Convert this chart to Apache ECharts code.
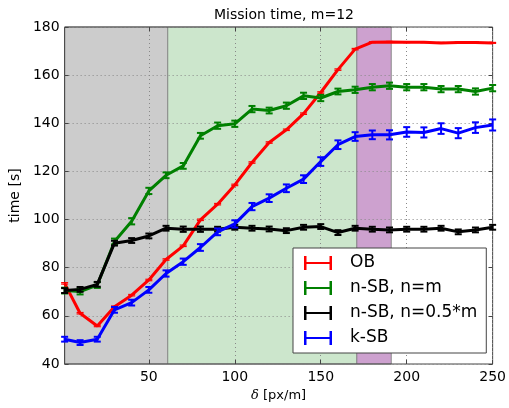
<!DOCTYPE html>
<html>
<head>
<meta charset="utf-8">
<title>Mission time</title>
<script src="https://cdn.jsdelivr.net/npm/echarts@6/dist/echarts.min.js"></script>
<style>
  html, body { margin: 0; padding: 0; background: #fff; }
  #main { width: 509px; height: 408px; }
</style>
</head>
<body>
<div id="main"></div>
<script type="text/javascript">
  // x positions (delta, px/m)
  var deltas = [1, 10, 20, 30, 40, 50, 60, 70, 80, 90, 100, 110, 120, 130, 140, 150, 160, 170, 180, 190, 200, 210, 220, 230, 240, 250];
  var xTicks = [50, 100, 150, 200, 250];

  // mean mission times
  var obTime = [73.5, 61.1, 55.8, 63.8, 68.6, 74.9, 83.4, 89.1, 99.9, 106.4, 114.4, 123.7, 132.0, 137.3, 144.0, 152.8, 162.3, 170.8, 173.7, 173.8, 173.7, 173.7, 173.4, 173.6, 173.6, 173.4];
  var nsbTime = [70.5, 70.1, 72.8, 90.9, 99.3, 111.9, 118.4, 122.3, 134.8, 139.0, 139.8, 145.9, 145.3, 147.3, 151.4, 150.5, 153.2, 153.9, 155.0, 155.6, 155.0, 155.0, 154.2, 154.2, 153.2, 154.6];
  var nsbHalfTime = [70.5, 71.0, 73.1, 90.2, 91.3, 93.2, 96.4, 96.0, 96.0, 96.0, 96.8, 96.4, 96.1, 95.4, 96.8, 97.1, 94.6, 96.4, 96.0, 95.7, 96.0, 96.0, 96.4, 94.9, 95.7, 96.8];
  var ksbTime = [50.3, 48.9, 50.3, 62.5, 65.5, 70.8, 77.6, 82.5, 88.4, 94.9, 98.2, 105.4, 108.9, 113.0, 116.8, 124.1, 131.1, 134.5, 135.2, 135.2, 136.4, 136.2, 137.8, 135.9, 138.2, 139.3];

  // error bar half-widths
  var obErr = [0.3, 0.3, 0.3, 0.3, 0.3, 0.3, 0.3, 0.3, 0.3, 0.3, 0.3, 0.3, 0.3, 0.3, 0.3, 0.3, 0.3, 0.3, 0.2, 0.2, 0.2, 0.2, 0.2, 0.2, 0.2, 0.2];
  var nsbErr = [1.2, 1.2, 1.2, 1.2, 1.3, 1.3, 1.2, 1.2, 1.2, 1.3, 1.3, 1.3, 1.2, 1.3, 1.3, 1.3, 1.2, 1.3, 1.3, 1.3, 1.3, 1.3, 1.3, 1.3, 1.3, 1.3];
  var nsbHalfErr = [1.0, 1.0, 1.0, 1.0, 1.0, 1.0, 1.0, 1.1, 1.1, 1.0, 1.0, 1.0, 1.0, 1.0, 1.0, 1.0, 1.0, 1.0, 1.0, 1.0, 1.0, 1.0, 1.0, 1.0, 1.0, 1.0];
  var ksbErr = [1.0, 1.0, 1.0, 1.2, 1.2, 1.2, 1.3, 1.3, 1.4, 1.4, 1.5, 1.5, 1.6, 1.6, 1.6, 1.8, 1.8, 1.8, 1.8, 1.9, 2.0, 2.1, 2.2, 2.1, 2.2, 2.3];

  // shaded delta ranges
  var bandStart = [1, 61, 171];
  var bandEnd = [61, 171, 191];
  var bandColor = ['#cccccc', '#cce6cc', '#cda1cf'];

  var names = ['OB', 'n-SB, n=m', 'n-SB, n=0.5*m', 'k-SB'];
  var colors = ['#ff0000', '#008000', '#000000', '#0000ff'];
  var means = [obTime, nsbTime, nsbHalfTime, ksbTime];
  var errs = [obErr, nsbErr, nsbHalfErr, ksbErr];

  var chart = echarts.init(document.getElementById('main'));

  var font = 'DejaVu Sans';
  var barIcon = 'path://M0,0H2.5V6H25.5V0H28V14H25.5V8H2.5V14H0Z';

  function lineData(arr) {
    var res = [];
    for (var i = 0; i < deltas.length; i++) res.push([deltas[i], arr[i]]);
    return res;
  }
  function errData(arr, err) {
    var res = [];
    for (var i = 0; i < deltas.length; i++) res.push([deltas[i], arr[i] - err[i], arr[i] + err[i]]);
    return res;
  }
  function bandData() {
    var res = [];
    for (var i = 0; i < bandStart.length; i++) res.push([bandStart[i], bandEnd[i], i]);
    return res;
  }

  function errRender(color, lw) {
    return function (params, api) {
      var x = api.value(0);
      var p1 = api.coord([x, api.value(1)]);
      var p2 = api.coord([x, api.value(2)]);
      var w = 3.5;
      var st = { stroke: color, lineWidth: lw };
      return {
        type: 'group',
        children: [
          { type: 'line', shape: { x1: p1[0], y1: p1[1], x2: p2[0], y2: p2[1] }, style: st },
          { type: 'line', shape: { x1: p1[0] - w, y1: p1[1], x2: p1[0] + w, y2: p1[1] }, style: st },
          { type: 'line', shape: { x1: p2[0] - w, y1: p2[1], x2: p2[0] + w, y2: p2[1] }, style: st }
        ]
      };
    };
  }

  var series = [{
    name: 'bands',
    type: 'custom',
    z: 1,
    silent: true,
    data: bandData(),
    renderItem: function (params, api) {
      var a = api.coord([api.value(0), 180]);
      var b = api.coord([api.value(1), 40]);
      return {
        type: 'rect',
        shape: { x: a[0], y: a[1], width: b[0] - a[0], height: b[1] - a[1] },
        style: { fill: bandColor[api.value(2)], stroke: '#8a8a8a', lineWidth: 1 }
      };
    }
  }];

  for (var k = 0; k < names.length; k++) {
    series.push({
      name: names[k],
      type: 'line',
      z: 4 + k * 2,
      data: lineData(means[k]),
      symbol: 'none',
      lineStyle: { color: colors[k], width: 3 },
      itemStyle: { color: colors[k] },
      animation: false
    });
    series.push({
      name: names[k],
      type: 'custom',
      z: 5 + k * 2,
      data: errData(means[k], errs[k]),
      itemStyle: { color: colors[k] },
      renderItem: errRender(colors[k], k === 0 ? 1.2 : 2),
      animation: false
    });
  }

  var legendData = [];
  for (var j = 0; j < names.length; j++) {
    legendData.push({ name: names[j], icon: barIcon, itemStyle: { color: colors[j] } });
  }

  var option = {
    backgroundColor: '#fff',
    animation: false,
    title: {
      text: 'Mission time, m=12',
      left: 279,
      textAlign: 'center',
      top: 3,
      textStyle: { fontFamily: font, fontSize: 14, fontWeight: 'normal', color: '#000' }
    },
    grid: {
      left: 62, right: 12, top: 27, bottom: 44,
      show: true,
      borderColor: '#444',
      borderWidth: 1,
      z: 3
    },
    legend: {
      orient: 'vertical',
      left: 293,
      top: 248,
      data: legendData,
      selectedMode: false,
      itemWidth: 28,
      itemHeight: 14,
      itemGap: 7,
      padding: [6, 9, 6, 11],
      backgroundColor: '#fff',
      borderColor: '#444',
      borderWidth: 1,
      borderRadius: 0,
      z: 20,
      textStyle: { fontFamily: font, fontSize: 17, color: '#000', padding: [0, 0, 0, 13], lineHeight: 18 }
    },
    xAxis: [{
      type: 'value',
      min: 1,
      max: 250,
      z: 3,
      name: '{d|δ} [px/m]',
      nameLocation: 'middle',
      nameGap: 22,
      nameTextStyle: {
        fontFamily: font, fontSize: 13, color: '#000',
        rich: { d: { fontFamily: 'DejaVu Serif', fontStyle: 'italic', fontSize: 13, color: '#000' } }
      },
      axisLine: { show: false },
      axisTick: { show: true, inside: true, length: 4, customValues: xTicks, lineStyle: { color: '#444' } },
      axisLabel: { customValues: xTicks, fontFamily: font, fontSize: 14, color: '#000', margin: 6 },
      splitLine: { show: true, lineStyle: { color: '#888', type: [1, 3], width: 1 } }
    }, {
      type: 'value',
      position: 'top',
      min: 1,
      max: 250,
      z: 3,
      axisLine: { show: false },
      axisTick: { show: true, inside: true, length: 4, customValues: xTicks, lineStyle: { color: '#444' } },
      axisLabel: { show: false },
      splitLine: { show: false }
    }],
    yAxis: [{
      type: 'value',
      min: 40,
      max: 180,
      interval: 20,
      z: 3,
      name: 'time [s]',
      nameLocation: 'middle',
      nameGap: 38,
      nameTextStyle: { fontFamily: font, fontSize: 14, color: '#000' },
      axisLine: { show: false },
      axisTick: { show: true, inside: true, length: 4, lineStyle: { color: '#444' } },
      axisLabel: { fontFamily: font, fontSize: 14, color: '#000', margin: 5 },
      splitLine: { show: true, lineStyle: { color: '#888', type: [1, 3], width: 1 } }
    }, {
      type: 'value',
      position: 'right',
      min: 40,
      max: 180,
      interval: 20,
      z: 3,
      axisLine: { show: false },
      axisTick: { show: true, inside: true, length: 4, lineStyle: { color: '#444' } },
      axisLabel: { show: false },
      splitLine: { show: false }
    }],
    series: series
  };

  chart.setOption(option);
</script>
</body>
</html>
